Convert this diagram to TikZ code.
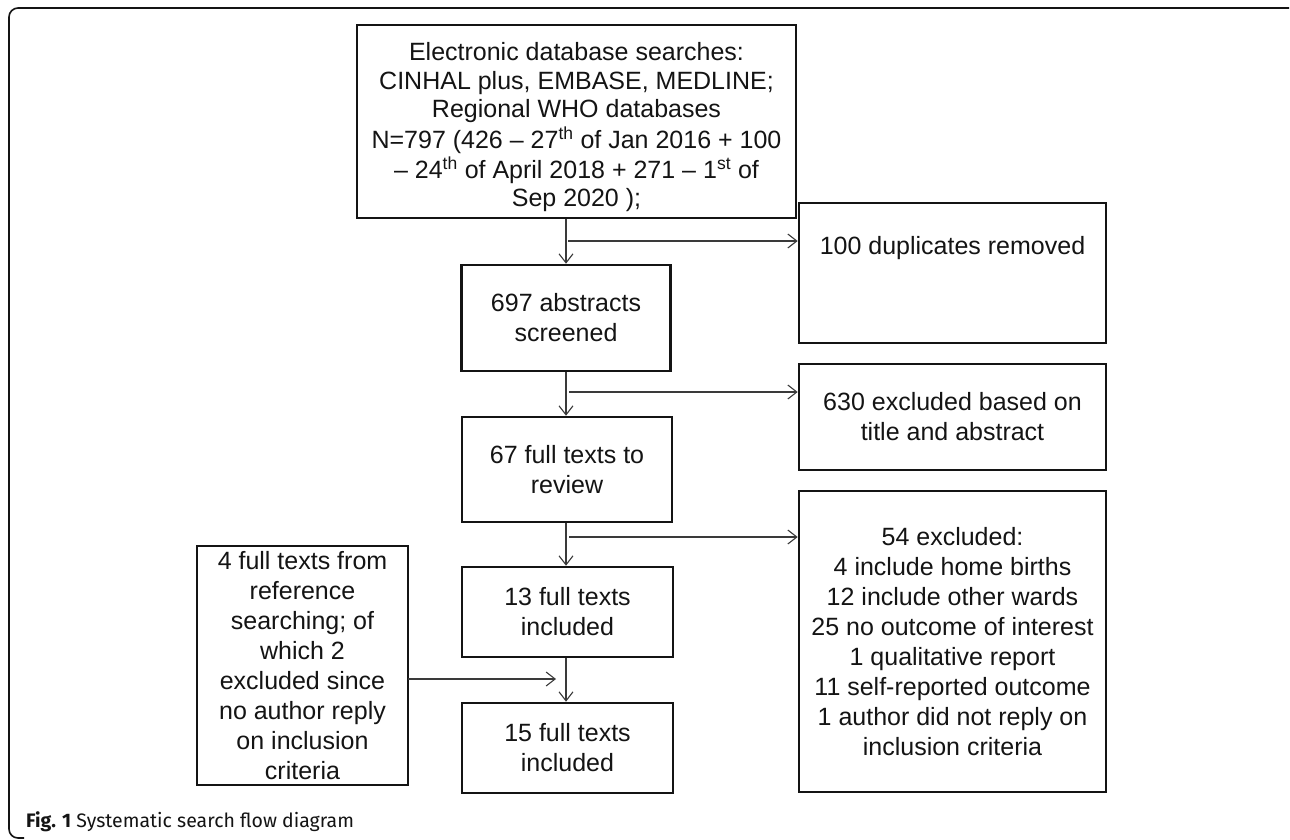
\documentclass[tikz,border=0pt]{standalone}
\usepackage{fontspec}
\setmainfont{Liberation Sans}
\newfontfamily\capfont{Fira Sans}
\usetikzlibrary{arrows.meta}
\definecolor{ink}{HTML}{141414}
\definecolor{arrowgray}{HTML}{3A3A3A}
\tikzset{
  box/.style={draw=ink, line width=2.6pt, inner sep=0pt, align=center, text=ink,
    font=\fontsize{25}{30}\selectfont},
  arr/.style={draw=arrowgray, line width=1.1pt, -{Straight Barb[length=9pt,width=14pt,line width=1.1pt]}},
  frame/.style={draw=ink, line width=1.6pt, rounded corners=9pt},
}
\begin{document}
\begin{tikzpicture}[x=1pt,y=-1pt]
\useasboundingbox (0,0) rectangle (1290,839);
\fill[white] (0,0) rectangle (1290,839);
% outer frame
\draw[frame] (1289,8) -- (9,8) -- (9,838) -- (24,838);
% boxes
\node[box, minimum width=439pt, minimum height=193pt] (top) at (576.5,121.5)
  {\raisebox{-13pt}[0pt][0pt]{\fontsize{25}{28.5}\selectfont\begin{tabular}{@{}c@{}}Electronic database searches:\\
   CINHAL plus, EMBASE, MEDLINE;\\
   Regional WHO databases\\
   N=797 (426 -- 27\textsuperscript{th} of Jan 2016 + 100\\
   -- 24\textsuperscript{th} of April 2018 + 271 -- 1\textsuperscript{st} of\\
   Sep 2020 );\end{tabular}}};
\node[box, minimum width=307pt, minimum height=140pt] (dup) at (952.5,273)
  {\raisebox{19pt}[0pt][0pt]{100 duplicates removed}};
\node[box, minimum width=209pt, minimum height=106pt] (abs) at (566,318) {697 abstracts\\screened};
\node[box, minimum width=307pt, minimum height=106pt] (excl) at (952.5,417) {630 excluded based on\\title and abstract};
\node[box, minimum width=210pt, minimum height=105pt] (rev) at (567,469.5) {67 full texts to\\review};
\node[box, minimum width=307pt, minimum height=301pt] (ex54) at (952.5,641.5)
  {54 excluded:\\4 include home births\\12 include other wards\\25 no outcome of interest\\1 qualitative report\\11 self-reported outcome\\1 author did not reply on\\inclusion criteria};
\node[box, minimum width=211pt, minimum height=90pt] (inc13) at (567.5,612) {13 full texts\\included};
\node[box, minimum width=211pt, minimum height=90pt] (inc15) at (567.5,748) {15 full texts\\included};
\node[box, minimum width=211pt, minimum height=239pt] (refs) at (302.5,665.5)
  {4 full texts from\\reference\\searching; of\\which 2\\excluded since\\no author reply\\on inclusion\\criteria};
% vertical connectors
\coordinate (v1) at (566,219);
\draw[arr] (v1) -- (v1 |- abs.north);
\coordinate (v2) at (566,372);
\draw[arr] (v2) -- (v2 |- rev.north);
\coordinate (v3) at (566,523);
\draw[arr] (v3) -- (v3 |- inc13.north);
\coordinate (v4) at (566,658);
\draw[arr] (v4) -- (v4 |- inc15.north);
% side branches
\coordinate (b1) at (568,241);
\draw[arr] (b1) -- (b1 -| dup.west);
\coordinate (b2) at (569,392);
\draw[arr] (b2) -- (b2 -| excl.west);
\coordinate (b3) at (569,537);
\draw[arr] (b3) -- (b3 -| ex54.west);
\coordinate (r1) at (408,679);
\coordinate (r2) at (556,679);
\draw[arr] (r1) -- (r2);
% caption
\node[anchor=base west, inner sep=0pt, text=ink, font=\capfont\fontsize{19.5}{23}\selectfont] (cap) at (26,827)
  {\textbf{Fig. 1} Systematic search flow diagram};
\end{tikzpicture}
\end{document}
